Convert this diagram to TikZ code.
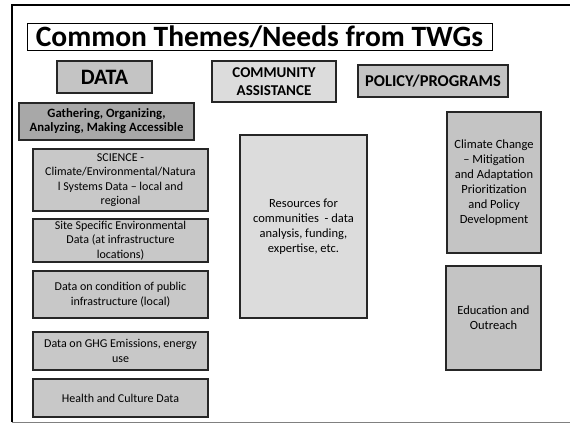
\documentclass[tikz,border=0pt]{standalone}
\usepackage{fontspec}
\setmainfont{Carlito}
\usepackage{xcolor}
\usetikzlibrary{positioning}

\definecolor{headgray}{HTML}{C4C4C4}
\definecolor{lightgray}{HTML}{DCDCDC}
\definecolor{darkgray}{HTML}{A8A8A8}
\definecolor{boxgray}{HTML}{C8C8C8}

\begin{document}
\begin{tikzpicture}[
        x=1pt, y=-1pt,
        box/.style={
            rectangle,
            draw=black!85,
            line width=1.1pt,
            align=center,
            inner sep=1pt
        },
        head/.style={
            box,
            font=\bfseries\fontsize{16.5}{18}\selectfont
        },
        item/.style={
            box,
            fill=boxgray,
            minimum width=175pt,
            font=\fontsize{12}{14.5}\selectfont
        }
    ]
    \useasboundingbox (0,0) rectangle (570,424);
    % Frame
    \draw[line width=2.5pt] (12,422) -- (12,5) -- (572,5);
    \draw[gray, line width=1pt] (12,422) -- (572,422);

    % Title
    \node[box, draw=black, line width=1pt, minimum width=465pt, minimum height=27pt,
          font=\bfseries\fontsize{29.5}{30}\selectfont] (title) at (259.5,36.5)
          {Common Themes/Needs from TWGs};

    % Headers
    \node[head, fill=headgray, minimum width=95pt, minimum height=32pt,
          font=\bfseries\fontsize{22}{24}\selectfont] (data) at (104.5,77) {DATA};
    \node[head, fill=lightgray, minimum width=124pt, minimum height=41pt,
          font=\bfseries\fontsize{15}{18}\selectfont] (community) at (274,81.5)
          {COMMUNITY\\ASSISTANCE};
    \node[head, fill=headgray, minimum width=150pt, minimum height=32pt] (policy) at (433,81)
          {POLICY/PROGRAMS};

    % Data column
    \node[box, fill=darkgray, minimum width=175pt, minimum height=37pt,
          font=\bfseries\fontsize{12.7}{14}\selectfont] (gather) at (106.5,121.5)
          {Gathering, Organizing,\\Analyzing, Making Accessible};
    \node[item, minimum height=62pt] (science) at (120.5,180)
          {SCIENCE -\\Climate/Environmental/Natura\\l Systems Data -- local and\\regional};
    \node[item, minimum height=43pt] (site) at (120.5,240.5)
          {Site Specific Environmental\\Data (at infrastructure\\locations)};
    \node[item, minimum height=47pt] (condition) at (120.5,294.5)
          {Data on condition of public\\infrastructure (local)};
    \node[item, minimum height=38pt] (ghg) at (120.5,351)
          {Data on GHG Emissions, energy\\use};
    \node[item, minimum height=38pt] (health) at (120.5,398)
          {Health and Culture Data};

    % Community column
    \node[box, fill=lightgray, minimum width=127pt, minimum height=183pt,
          font=\fontsize{12.5}{15}\selectfont] (resources) at (303.5,226.5)
          {Resources for\\communities\ \ - data\\analysis, funding,\\expertise, etc.};

    % Policy column
    \node[box, fill=headgray, minimum width=94pt, minimum height=141pt,
          font=\fontsize{12.5}{15}\selectfont] (climate) at (494,182.5)
          {Climate Change\\-- Mitigation\\and Adaptation\\Prioritization\\and Policy\\Development};
    \node[box, fill=headgray, minimum width=95pt, minimum height=104pt,
          font=\fontsize{12.5}{15}\selectfont] (education) at (493.5,318)
          {Education and\\Outreach};
\end{tikzpicture}
\end{document}
